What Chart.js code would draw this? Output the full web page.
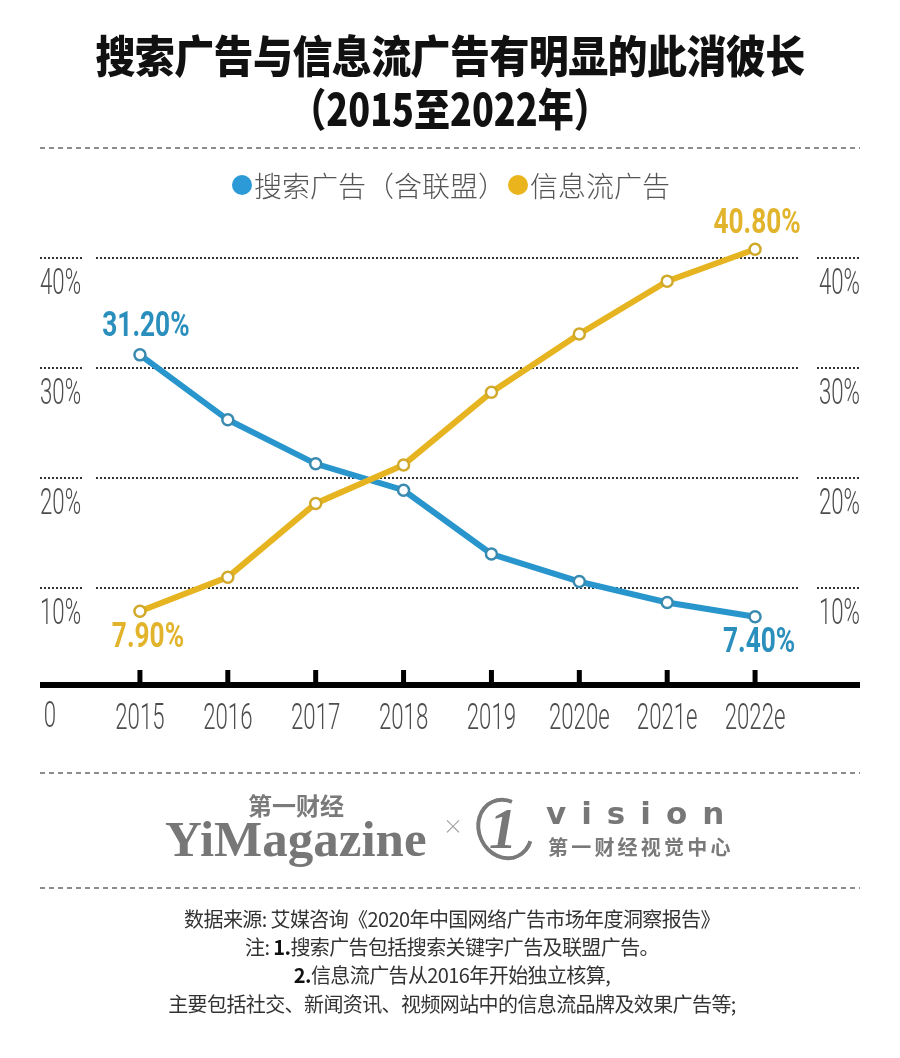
<!DOCTYPE html>
<html><head><meta charset="utf-8">
<script src="https://cdn.jsdelivr.net/npm/chart.js@4.4.0/dist/chart.umd.min.js"></script>
<style>
html,body{margin:0;padding:0;background:#fff;}
#wrap{position:relative;width:900px;height:1058px;overflow:hidden;background:#fff;font-family:"Noto Sans CJK SC","Noto Sans",sans-serif;}
#c{position:absolute;left:0;top:0;}
.abs{position:absolute;white-space:nowrap;}
.t1{left:0;width:900px;top:27px;text-align:center;font-size:40px;font-weight:900;color:#111;line-height:54px;letter-spacing:-0.6px;transform:scaleY(1.12);}
.t2{left:0;width:900px;top:80px;text-align:center;font-size:40px;font-weight:900;color:#111;line-height:54px;transform:scale(0.9,1.12);}
.dash{position:absolute;left:40px;width:820px;height:2px;background:repeating-linear-gradient(to right,#8c8c8c 0 5px,transparent 5px 9px);}
.dot{position:absolute;width:20px;height:20px;border-radius:50%;}
.lg{font-size:28px;font-weight:300;color:#555;line-height:32px;}
.foot{left:0;width:904px;text-align:center;font-size:20px;color:#333;line-height:28px;letter-spacing:-0.6px;}
.foot b{font-weight:700;color:#111;}
</style></head>
<body>
<div id="wrap">
  <canvas id="c" width="900" height="1058"></canvas>
  <div class="abs t1">搜索广告与信息流广告有明显的此消彼长</div>
  <div class="abs t2">（2015至2022年）</div>
  <div class="dash" style="top:147px"></div>

  <div class="dot" style="left:232px;top:175px;background:#2b9ad6"></div>
  <div class="abs lg" style="left:254px;top:169px">搜索广告（含联盟）</div>
  <div class="dot" style="left:508px;top:175px;background:#eab41c"></div>
  <div class="abs lg" style="left:530px;top:169px">信息流广告</div>

  <div class="dash" style="top:772px"></div>
  <div class="abs" style="left:248px;top:790px;font-size:24px;font-weight:700;color:#7a7a7a;line-height:30px;">第一财经</div>
  <div class="abs" style="left:165px;top:810px;font-family:'Liberation Serif','DejaVu Serif',serif;font-weight:700;font-size:51px;color:#777;line-height:58px;">YiMagazine</div>
  <div class="abs" style="left:443px;top:814px;font-size:20px;font-weight:300;color:#999;line-height:24px;">×</div>
  <div class="abs" style="left:477px;top:797px;width:56px;height:64px;box-sizing:border-box;border:4px solid #7a7a7a;border-right-color:transparent;border-radius:50%;transform:rotate(-25deg);"></div>
  <div class="abs" style="left:489px;top:797px;font-family:'Liberation Serif','DejaVu Serif',serif;font-style:italic;font-weight:700;font-size:56px;color:#777;line-height:64px;">1</div>
  <div class="abs" style="left:546px;top:795px;font-family:'DejaVu Sans','Liberation Sans',sans-serif;font-weight:700;font-size:31px;color:#777;line-height:36px;letter-spacing:15px;">vision</div>
  <div class="abs" style="left:548px;top:834px;font-size:20px;font-weight:700;color:#7a7a7a;line-height:26px;letter-spacing:3.2px;">第一财经视觉中心</div>
  <div class="dash" style="top:887px"></div>

  <div class="abs foot" style="top:905px">数据来源: 艾媒咨询《2020年中国网络广告市场年度洞察报告》</div>
  <div class="abs foot" style="top:933px">注: <b>1.</b>搜索广告包括搜索关键字广告及联盟广告。</div>
  <div class="abs foot" style="top:961px"><b>2.</b>信息流广告从2016年开始独立核算,</div>
  <div class="abs foot" style="top:990px">主要包括社交、新闻资讯、视频网站中的信息流品牌及效果广告等;</div>
</div>
<script>
// ---------- data ----------
const categories = ['2015', '2016', '2017', '2018', '2019', '2020e', '2021e', '2022e'];
const searchAds = [31.2, 25.3, 21.3, 18.9, 13.1, 10.6, 8.7, 7.4];
const feedAds = [7.9, 11.0, 17.7, 21.2, 27.8, 33.1, 37.9, 40.8];
const yTickValues = [10, 20, 30, 40];
const seriesNames = ['搜索广告（含联盟）', '信息流广告'];
const originLabel = '0';

// ---------- styles ----------
const TICK_SX = 0.6;   // horizontal condensing of the thin tick labels
const tickFont = { family: 'Roboto, "Liberation Sans", sans-serif', size: 37, weight: 300 };
const tickColor = '#4d4d4d';
const BOLDFAM = 'Roboto, "Liberation Sans", sans-serif';
const BLUE = '#2896cc', YELLOW = '#e6b420';

// ---------- condensed-label scales (library scales, labels drawn narrower) ----------
function condensedDrawLabels(chartArea) {
  if (!this.options.ticks.display) return;
  const ctx = this.ctx;
  const items = this.getLabelItems(chartArea);
  for (const item of items) {
    const o = item.options;
    const [tx, ty] = o.translation;
    ctx.save();
    ctx.translate(tx, ty);
    if (o.rotation) ctx.rotate(o.rotation);
    ctx.scale(TICK_SX, 1);
    ctx.font = item.font.string;
    ctx.fillStyle = o.color;
    ctx.textAlign = o.textAlign;
    ctx.textBaseline = o.textBaseline;
    const lines = Array.isArray(item.label) ? item.label : [item.label];
    lines.forEach((ln, k) => ctx.fillText(ln, 0, item.textOffset + k * item.font.lineHeight));
    ctx.restore();
  }
}
class CondensedCategoryScale extends Chart.CategoryScale {
  static id = 'condensedCategory';
  static defaults = {};
  drawLabels(a) { condensedDrawLabels.call(this, a); }
}
class CondensedLinearScale extends Chart.LinearScale {
  static id = 'condensedLinear';
  static defaults = {};
  drawLabels(a) { condensedDrawLabels.call(this, a); }
}
Chart.register(CondensedCategoryScale, CondensedLinearScale);

// ---------- plugins ----------
const decorPlugin = {
  id: 'decor',
  beforeDatasetsDraw(chart) {
    const ctx = chart.ctx, y = chart.scales.y, x = chart.scales.x;
    const area = chart.chartArea;
    ctx.save();
    ctx.strokeStyle = '#333'; ctx.lineWidth = 2; ctx.setLineDash([2, 2]);
    y.ticks.forEach(t => {
      const py = Math.round(y.getPixelForValue(t.value));
      ctx.beginPath(); ctx.moveTo(40, py); ctx.lineTo(84, py); ctx.stroke();
      ctx.beginPath(); ctx.moveTo(817, py); ctx.lineTo(861, py); ctx.stroke();
    });
    ctx.setLineDash([]);
    ctx.fillStyle = '#000';
    ctx.fillRect(40, area.bottom - 3, 820, 6);
    x.ticks.forEach((t, i) => {
      const px = x.getPixelForTick(i);
      ctx.fillRect(px - 2.5, area.bottom - 15, 5, 14);
    });
    // origin label
    ctx.translate(50, 718);
    ctx.scale(TICK_SX, 1);
    ctx.font = tickFont.weight + ' ' + tickFont.size + 'px ' + tickFont.family;
    ctx.fillStyle = tickColor; ctx.textAlign = 'center'; ctx.textBaseline = 'middle';
    ctx.fillText(originLabel, 0, 0);
    ctx.restore();
  }
};

const labelSpec = [
  [{ index: 0, dx: 6, dy: -28 }, { index: 7, dx: 4, dy: 26 }],
  [{ index: 0, dx: 8, dy: 27 }, { index: 7, dx: 2, dy: -25 }]
];
const labelColors = ['#2b8fbd', '#e2b42c'];
const valueLabelPlugin = {
  id: 'valueLabels',
  afterDatasetsDraw(chart) {
    const ctx = chart.ctx;
    chart.data.datasets.forEach((ds, i) => {
      const meta = chart.getDatasetMeta(i);
      labelSpec[i].forEach(l => {
        const pt = meta.data[l.index];
        const txt = ds.data[l.index].toFixed(2) + '%';
        ctx.save();
        ctx.font = 'bold 35px ' + BOLDFAM;
        ctx.fillStyle = labelColors[i];
        ctx.textAlign = 'center'; ctx.textBaseline = 'middle';
        ctx.translate(pt.x + l.dx, pt.y + l.dy);
        ctx.scale(0.75, 1);
        ctx.fillText(txt, 0, 0);
        ctx.restore();
      });
    });
  }
};

// ---------- chart ----------
const setTicks = s => { s.ticks = yTickValues.map(v => ({ value: v })); };
new Chart(document.getElementById('c'), {
  type: 'line',
  data: {
    labels: categories,
    datasets: [
      { label: seriesNames[0], data: searchAds, order: 1, borderColor: BLUE, borderWidth: 6,
        pointRadius: 5.5, pointBorderWidth: 2.5, pointBackgroundColor: '#fff', pointBorderColor: '#3a8ab0',
        tension: 0, clip: false, yAxisID: 'y' },
      { label: seriesNames[1], data: feedAds, order: 0, borderColor: YELLOW, borderWidth: 6,
        pointRadius: 5.5, pointBorderWidth: 2.5, pointBackgroundColor: '#fff', pointBorderColor: '#d1a92a',
        tension: 0, clip: false, yAxisID: 'y' }
    ]
  },
  options: {
    responsive: false, animation: false, devicePixelRatio: 1,
    layout: { padding: { left: 40, right: 40, top: 203, bottom: 313 } },
    plugins: { legend: { display: false }, tooltip: { enabled: false } },
    scales: {
      x: {
        type: 'condensedCategory', offset: true,
        grid: { display: false, drawTicks: false }, border: { display: false },
        ticks: { font: tickFont, color: tickColor, padding: 13, maxRotation: 0, minRotation: 0, autoSkip: false },
        afterFit: s => { s.height = 60; }
      },
      y: {
        type: 'condensedLinear', position: 'left', min: 1.2, max: 45,
        afterBuildTicks: setTicks,
        grid: { color: '#333', lineWidth: 2, drawTicks: false },
        border: { display: false, dash: [2, 2] },
        ticks: { font: tickFont, color: tickColor, padding: 0, crossAlign: 'far', labelOffset: 27,
                 callback: v => v + '%' },
        afterFit: s => { s.width = 56; }
      },
      y2: {
        type: 'condensedLinear', position: 'right', min: 1.2, max: 45,
        afterBuildTicks: setTicks,
        grid: { display: false, drawTicks: false }, border: { display: false },
        ticks: { font: tickFont, color: tickColor, padding: 0, crossAlign: 'far', labelOffset: 27,
                 callback: v => v + '%' },
        afterFit: s => { s.width = 61; }
      }
    }
  },
  plugins: [decorPlugin, valueLabelPlugin]
});
</script>
</body></html>
